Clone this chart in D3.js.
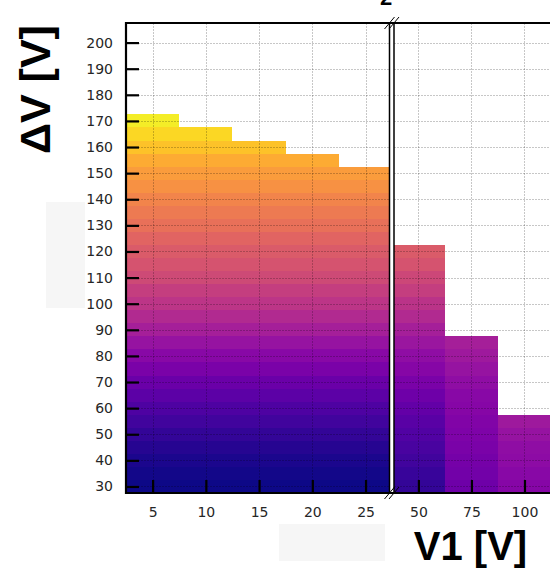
<!DOCTYPE html>
<html>
<head>
<meta charset="utf-8">
<script src="https://cdn.jsdelivr.net/npm/d3@7"></script>
<style>
  html, body { margin: 0; padding: 0; background: #fff; }
  svg { display: block; }
</style>
</head>
<body>
<svg id="chart" width="550" height="572"></svg>
<script>
// ΔV bins (row centres, 5 V wide) shared by every column
const dvRows = [30, 35, 40, 45, 50, 55, 60, 65, 70, 75, 80, 85, 90, 95, 100,
                105, 110, 115, 120, 125, 130, 135, 140, 145, 150, 155, 160, 165, 170];

// low-V1 panel: columns 5 V wide
const leftV1 = [5, 10, 15, 20, 25];
const leftMaxDV = [170, 165, 160, 155, 150];
// colour level per ΔV row (same for every low-V1 column)
const leftLevel = [0.00, 0.01, 0.02, 0.04, 0.07, 0.10, 0.13, 0.165, 0.20, 0.24,
                   0.28, 0.32, 0.36, 0.40, 0.44, 0.47, 0.51, 0.54, 0.57, 0.60,
                   0.64, 0.67, 0.70, 0.74, 0.77, 0.81, 0.87, 0.92, 0.97];

// high-V1 panel: columns 25 V wide
const rightV1 = [50, 75, 100];
const rightMaxDV = [120, 85, 55];
const level50 = [0.07, 0.08, 0.10, 0.12, 0.14, 0.16, 0.18, 0.21, 0.24, 0.27,
                 0.30, 0.33, 0.36, 0.40, 0.43, 0.47, 0.50, 0.54, 0.57];
const level75 = [0.21, 0.22, 0.23, 0.24, 0.25, 0.26, 0.27, 0.28, 0.30, 0.32, 0.34, 0.36];
const level100 = [0.27, 0.28, 0.29, 0.30, 0.32, 0.34];
const rightLevels = [level50, level75, level100];

// axis ticks
const yTicks = [30, 40, 50, 60, 70, 80, 90, 100, 110, 120, 130, 140, 150, 160, 170, 180, 190, 200];
const leftXTicks = [5, 10, 15, 20, 25];
const rightXTicks = [50, 75, 100];

const rowStep = 5, leftWidth = 5, rightWidth = 25;

const svg = d3.select("#chart");
const plotTop = 23, plotBottom = 493;

const y = d3.scaleLinear().domain([27.5, 207.5]).range([plotBottom, plotTop]);
const xL = d3.scaleLinear().domain([2.5, 27.25]).range([126, 389.5]);
const xR = d3.scaleLinear().domain([38.5, 112.5]).range([394, 551]);

const defs = svg.append("defs");
defs.append("clipPath").attr("id", "clipL").append("rect")
  .attr("x", xL.range()[0]).attr("y", plotTop)
  .attr("width", xL.range()[1] - xL.range()[0]).attr("height", plotBottom - plotTop);
defs.append("clipPath").attr("id", "clipR").append("rect")
  .attr("x", xR.range()[0]).attr("y", plotTop)
  .attr("width", xR.range()[1] - xR.range()[0]).attr("height", plotBottom - plotTop);

// build cell lists
const leftCells = [];
leftV1.forEach((v1, i) => {
  dvRows.forEach((dv, j) => {
    if (dv <= leftMaxDV[i]) leftCells.push({ v1, dv, level: leftLevel[j] });
  });
});
const rightCells = [];
rightV1.forEach((v1, i) => {
  rightLevels[i].forEach((lv, j) => {
    const dv = dvRows[j];
    if (dv <= rightMaxDV[i]) rightCells.push({ v1, dv, level: lv });
  });
});

function drawPanel(clipId, x, cells, width, xTicks) {
  const g = svg.append("g").attr("clip-path", `url(#${clipId})`);
  g.selectAll("rect.cell").data(cells).enter().append("rect")
    .attr("class", "cell")
    .attr("x", d => x(d.v1 - width / 2))
    .attr("width", d => x(d.v1 + width / 2) - x(d.v1 - width / 2))
    .attr("y", d => y(d.dv + rowStep / 2))
    .attr("height", d => y(d.dv - rowStep / 2) - y(d.dv + rowStep / 2))
    .attr("fill", d => d3.interpolatePlasma(d.level))
    .attr("shape-rendering", "crispEdges");

  // grid on top of the cells
  const [x0, x1] = x.range();
  g.selectAll("line.gy").data(yTicks).enter().append("line")
    .attr("x1", x0).attr("x2", x1)
    .attr("y1", d => Math.round(y(d)) + 0.5).attr("y2", d => Math.round(y(d)) + 0.5)
    .attr("stroke", "rgba(0,0,0,0.22)").attr("stroke-width", 1)
    .attr("stroke-dasharray", "2,1");
  g.selectAll("line.gx").data(xTicks).enter().append("line")
    .attr("y1", plotTop).attr("y2", plotBottom)
    .attr("x1", d => Math.round(x(d)) + 0.5).attr("x2", d => Math.round(x(d)) + 0.5)
    .attr("stroke", "rgba(0,0,0,0.22)").attr("stroke-width", 1)
    .attr("stroke-dasharray", "2,1");
}

drawPanel("clipL", xL, leftCells, leftWidth, leftXTicks);
drawPanel("clipR", xR, rightCells, rightWidth, rightXTicks);

// axes with inward ticks
function styleAxis(g) {
  g.select(".domain").remove();
  g.selectAll(".tick line").attr("stroke", "#000").attr("stroke-width", 2.2);
  g.selectAll(".tick text")
    .attr("fill", "#262626")
    .style("font-family", "'DejaVu Sans', sans-serif")
    .style("font-size", "14px");
}

svg.append("g").attr("transform", `translate(${xL.range()[0]},0)`)
  .call(d3.axisLeft(y).tickValues(yTicks).tickSize(-13).tickPadding(13))
  .call(styleAxis);

svg.append("g").attr("transform", `translate(0,${plotBottom})`)
  .call(d3.axisBottom(xL).tickValues(leftXTicks).tickSize(-13).tickPadding(14))
  .call(styleAxis);

svg.append("g").attr("transform", `translate(0,${plotBottom})`)
  .call(d3.axisBottom(xR).tickValues(rightXTicks).tickSize(-13).tickPadding(14))
  .call(styleAxis);

// frame
const frame = svg.append("g").attr("stroke", "#000").attr("fill", "none");
frame.append("line").attr("x1", 126).attr("x2", 126).attr("y1", plotTop - 1).attr("y2", plotBottom + 1).attr("stroke-width", 2.2);
frame.append("line").attr("x1", 125).attr("x2", 551).attr("y1", plotTop).attr("y2", plotTop).attr("stroke-width", 2);
frame.append("line").attr("x1", 125).attr("x2", 551).attr("y1", plotBottom).attr("y2", plotBottom).attr("stroke-width", 2);
frame.append("line").attr("x1", 389.5).attr("x2", 389.5).attr("y1", plotTop).attr("y2", plotBottom).attr("stroke-width", 1.5);
frame.append("line").attr("x1", 394).attr("x2", 394).attr("y1", plotTop).attr("y2", plotBottom).attr("stroke-width", 1.5);

// break marks
[389.5, 394].forEach(sx => {
  [plotTop, plotBottom].forEach(sy => {
    frame.append("line")
      .attr("x1", sx - 5).attr("y1", sy + 6)
      .attr("x2", sx + 5).attr("y2", sy - 6)
      .attr("stroke-width", 1);
  });
});

// axis titles
svg.append("text")
  .attr("transform", "translate(50,89.5) rotate(-90)")
  .attr("text-anchor", "middle")
  .style("font-family", "'Liberation Sans', Arial, sans-serif")
  .style("font-weight", "bold")
  .style("font-size", "43px")
  .attr("fill", "#000")
  .text("ΔV [V]");

svg.append("text")
  .attr("x", 470.5).attr("y", 560)
  .attr("text-anchor", "middle")
  .style("font-family", "'Liberation Sans', Arial, sans-serif")
  .style("font-weight", "bold")
  .style("font-size", "40px")
  .attr("fill", "#000")
  .text("V1 [V]");

// heading glyph at the very top edge
svg.append("text")
  .attr("x", 386).attr("y", 4.5)
  .attr("text-anchor", "middle")
  .style("font-family", "'Liberation Sans', Arial, sans-serif")
  .style("font-weight", "bold")
  .style("font-size", "22px")
  .attr("fill", "#000")
  .text("2");

// pale blank panels
svg.append("rect").attr("x", 46).attr("y", 202).attr("width", 39).attr("height", 106).attr("fill", "#f6f6f6");
svg.append("rect").attr("x", 279).attr("y", 524).attr("width", 106).attr("height", 37).attr("fill", "#f6f6f6");
</script>
</body>
</html>
